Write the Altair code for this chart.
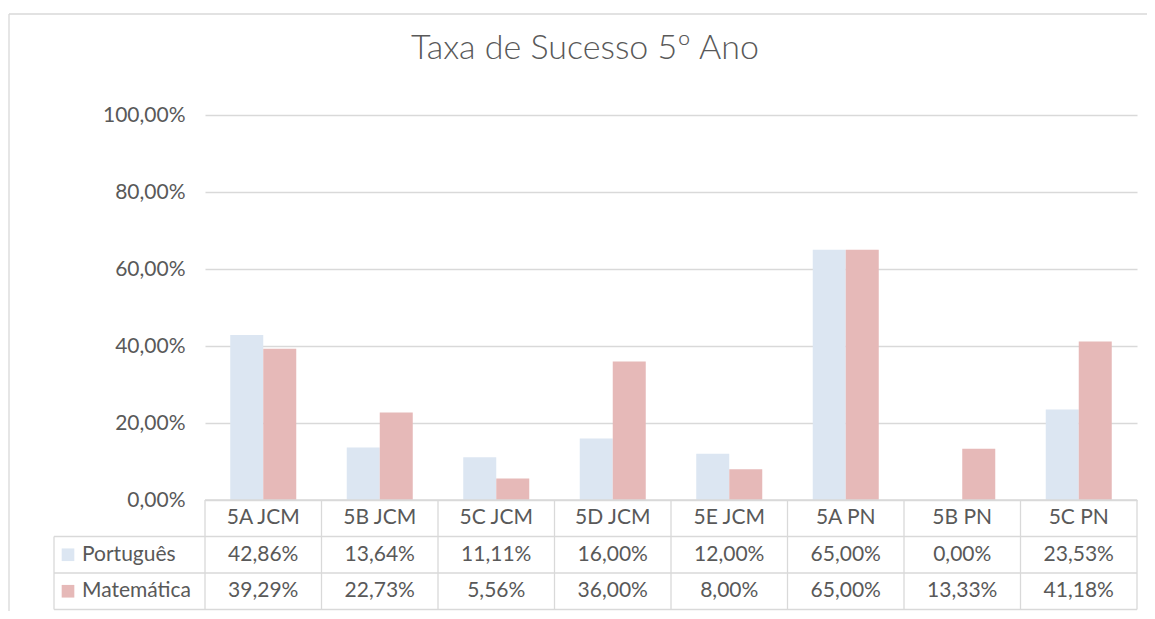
import altair as alt
import pandas as pd

categories = ["5A JCM", "5B JCM", "5C JCM", "5D JCM", "5E JCM", "5A PN", "5B PN", "5C PN"]
subjects = ["Português", "Matemática"]
portugues = [42.86, 13.64, 11.11, 16.00, 12.00, 65.00, 0.00, 23.53]
matematica = [39.29, 22.73, 5.56, 36.00, 8.00, 65.00, 13.33, 41.18]
y_ticks = [0, 0.2, 0.4, 0.6, 0.8, 1.0]
title_text = "Taxa de Sucesso 5º Ano"

colors = ["#dce6f2", "#e6b9b8"]
text_color = "#595959"
line_color = "#d9d9d9"
FONT = "Lato"
FS = 21

W, H = 932, 385
ROW = 36.5
r1, r2, r3 = H + ROW, H + 2 * ROW, H + 3 * ROW

rows = []
for s, vals in zip(subjects, [portugues, matematica]):
    for c, v in zip(categories, vals):
        rows.append({"cat": c, "subject": s, "value": v / 100.0})
df = pd.DataFrame(rows)
cat_df = pd.DataFrame({"cat": categories})
one = pd.DataFrame({"a": [0]})
subj_df = pd.DataFrame({"subject": subjects})

xenc = alt.X("cat:N", sort=categories, scale=alt.Scale(paddingInner=0, paddingOuter=0), axis=None)
color_scale = alt.Scale(domain=subjects, range=colors)

bars = alt.Chart(df).mark_bar().encode(
    x=xenc,
    xOffset=alt.XOffset("subject:N", sort=subjects,
                        scale=alt.Scale(paddingInner=0, paddingOuter=0.765)),
    y=alt.Y("value:Q", scale=alt.Scale(domain=[0, 1]),
            axis=alt.Axis(values=y_ticks,
                          labelExpr="replace(format(datum.value, '.2%'), '.', ',')",
                          grid=True, gridColor=line_color, gridWidth=1.3,
                          domain=False, ticks=False, labelFontSize=FS,
                          labelColor=text_color, labelFont=FONT, labelPadding=20,
                          title=None)),
    color=alt.Color("subject:N", scale=color_scale, legend=None),
)

def hrule(y, x1, x2):
    return alt.Chart(one).mark_rule(color=line_color, strokeWidth=1.3).encode(
        x=alt.value(x1), x2=alt.value(x2), y=alt.value(y))

def vrule(x, y1, y2):
    return alt.Chart(one).mark_rule(color=line_color, strokeWidth=1.3).encode(
        x=alt.value(x), y=alt.value(y1), y2=alt.value(y2))

vlines = alt.Chart(cat_df).mark_rule(color=line_color, strokeWidth=1.3).encode(
    x=alt.X("cat:N", sort=categories, bandPosition=0),
    y=alt.value(H), y2=alt.value(r3))

header = alt.Chart(cat_df).mark_text(fontSize=FS, font=FONT, color=text_color).encode(
    x=alt.X("cat:N", sort=categories), y=alt.value(H + ROW / 2), text="cat:N")

table_text = []
for i, s in enumerate(subjects):
    t = alt.Chart(df).transform_filter(alt.datum.subject == s).transform_calculate(
        label="replace(format(datum.value, '.2%'), '.', ',')"
    ).mark_text(fontSize=FS, font=FONT, color=text_color).encode(
        x=alt.X("cat:N", sort=categories), y=alt.value(H + ROW * (i + 1.5)), text="label:N")
    table_text.append(t)

legend_sw = []
legend_tx = []
for i, s in enumerate(subjects):
    legend_sw.append(alt.Chart(subj_df).transform_filter(alt.datum.subject == s).mark_square(
        size=160, opacity=1, filled=True).encode(
        x=alt.value(-137), y=alt.value(H + ROW * (i + 1.5)),
        color=alt.Color("subject:N", scale=color_scale, legend=None)))
    legend_tx.append(alt.Chart(subj_df).transform_filter(alt.datum.subject == s).mark_text(
        align="left", fontSize=FS, font=FONT, color=text_color).encode(
        x=alt.value(-123), y=alt.value(H + ROW * (i + 1.5)), text="subject:N"))

title = alt.Chart(one).mark_text(fontSize=34, font=FONT, color=text_color, fontWeight=300).encode(
    x=alt.value(380), y=alt.value(-66), text=alt.value(title_text))

border = [hrule(-101, -196, W + 20), vrule(-196, -101, r3 + 20)]

chart = alt.layer(
    *border,
    bars,
    hrule(H, 0, W), hrule(r1, -151, W), hrule(r2, -151, W), hrule(r3, -151, W),
    vlines, vrule(W, H, r3), vrule(-151, r1, r3),
    header, *table_text, *legend_sw, *legend_tx, title,
).properties(
    width=W, height=H,
    autosize=alt.AutoSizeParams(type="none"),
    padding={"left": 197, "top": 107, "right": 10, "bottom": 111},
).configure_view(stroke=None)

chart.save("out.html", embed_options={"renderer": "svg", "actions": False})
